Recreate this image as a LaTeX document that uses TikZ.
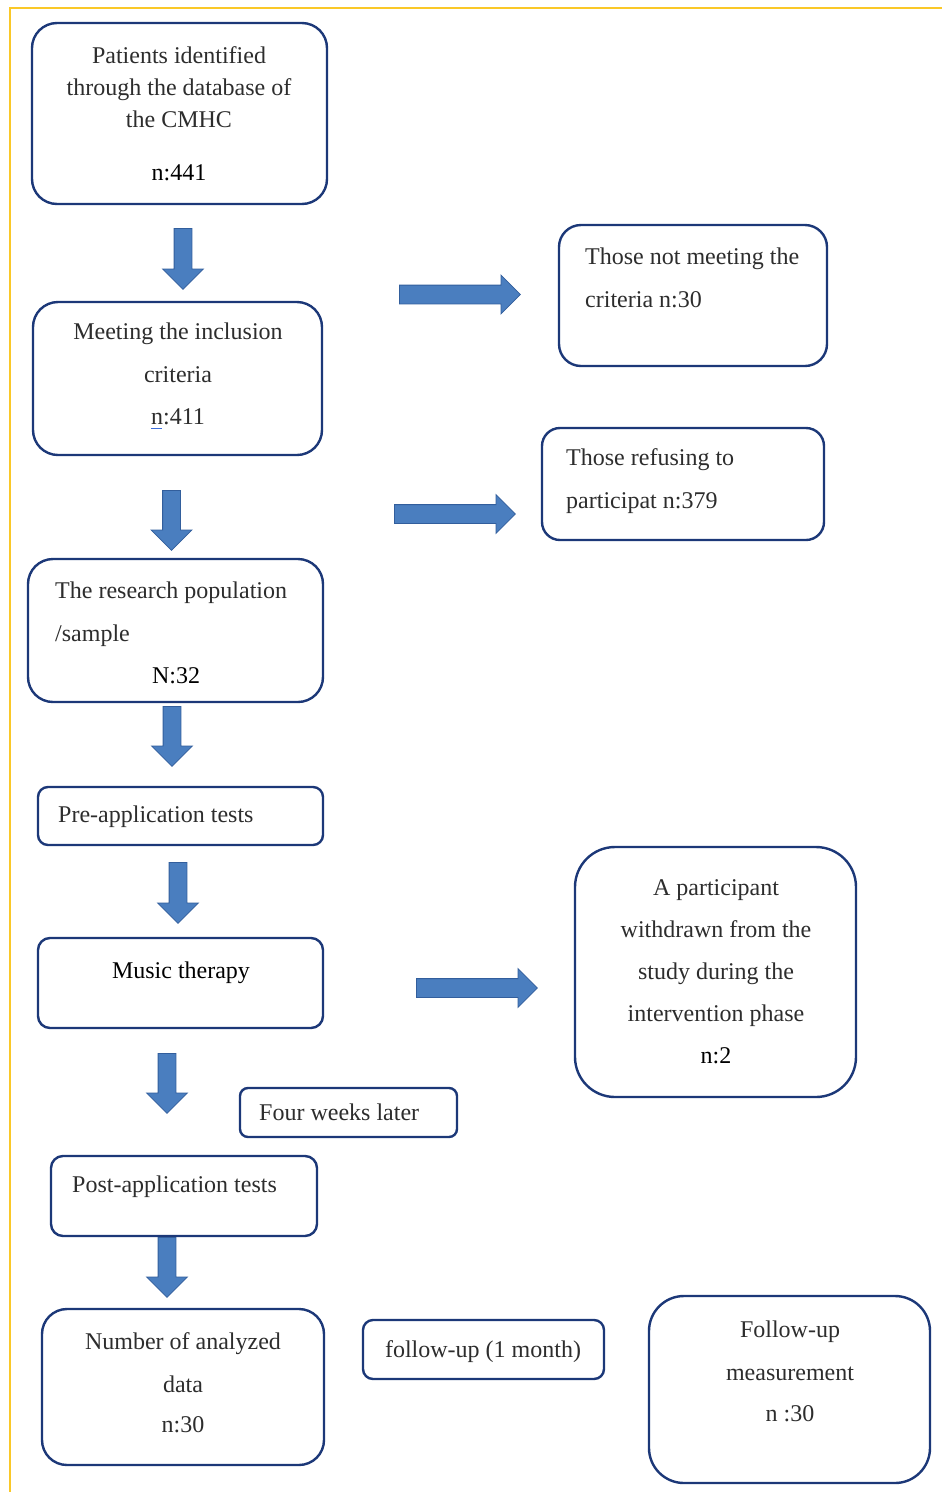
\documentclass[tikz,border=0pt]{standalone}
\usepackage{fontspec}
\setmainfont{Liberation Serif}
\usetikzlibrary{shapes.arrows}
\definecolor{boxblue}{RGB}{28,56,120}
\definecolor{arrfill}{RGB}{74,126,191}
\definecolor{arrline}{RGB}{50,94,156}
\definecolor{frameyellow}{RGB}{250,200,40}
\definecolor{txt}{RGB}{45,45,45}
\definecolor{spell}{RGB}{60,110,220}
\begin{document}
\begin{tikzpicture}[x=1pt,y=-1pt,
  box/.style={draw=boxblue, line width=2.4pt, fill=white, inner sep=0pt},
  blkbase/.style={single arrow, fill=arrfill, draw=arrline, line width=0.8pt,
    single arrow tip angle=90, single arrow head indent=0pt, anchor=tail},
  blk/.style={blkbase, inner sep=8.5pt, single arrow head extend=11.5pt,
    minimum height=60pt, rotate=-90},
  rblk/.style={blkbase, inner sep=9pt, single arrow head extend=10pt, minimum height=121pt},
  lbl/.style={font=\fontsize{24}{24}\selectfont, text=txt, inner sep=0pt, anchor=base},
  lbll/.style={lbl, anchor=base west},
  dark/.style={text=black},
]
\useasboundingbox (0,0) rectangle (942,1492);
\fill[white] (0,0) rectangle (942,1492);
\draw[frameyellow, line width=2pt] (942,8) -- (10,8) -- (10,1492);

% boxes
\node[box, rounded corners=25pt, minimum width=295pt, minimum height=181pt] (b1) at (179.5,113.5) {};
\node[box, rounded corners=25pt, minimum width=289pt, minimum height=153pt] (b2) at (177.5,378.5) {};
\node[box, rounded corners=22pt, minimum width=268pt, minimum height=141pt] (b3) at (693,295.5) {};
\node[box, rounded corners=18pt, minimum width=282pt, minimum height=112pt] (b4) at (683,484) {};
\node[box, rounded corners=25pt, minimum width=295pt, minimum height=143pt] (b5) at (175.5,630.5) {};
\node[box, rounded corners=10pt, minimum width=285pt, minimum height=58pt] (b6) at (180.5,816) {};
\node[box, rounded corners=12pt, minimum width=285pt, minimum height=90pt] (b7) at (180.5,983) {};
\node[box, rounded corners=40pt, minimum width=281pt, minimum height=250pt] (b8) at (715.5,972) {};
\node[box, rounded corners=8pt, minimum width=217pt, minimum height=49pt] (b9) at (348.5,1112.5) {};
\node[box, rounded corners=12pt, minimum width=266pt, minimum height=80pt] (b10) at (184,1196) {};
\node[box, rounded corners=25pt, minimum width=282pt, minimum height=156pt] (b11) at (183,1387) {};
\node[box, rounded corners=10pt, minimum width=241pt, minimum height=59pt] (b12) at (483.5,1349.5) {};
\node[box, rounded corners=35pt, minimum width=281pt, minimum height=187pt] (b13) at (789.5,1389.5) {};

% texts
\node[lbl] (t1a) at (179,63) {Patients identified};
\node[lbl] (t1b) at (179,95) {through the database of};
\node[lbl] (t1c) at (179,127) {the CMHC};
\node[lbl, dark] (t1d) at (179,180) {n:441};

\node[lbl] (t2a) at (178,339) {Meeting the inclusion};
\node[lbl] (t2b) at (178,382) {criteria};
\node[lbl] (t2c) at (178,424) {n:411};
\draw[spell, line width=1pt] ([yshift=-4pt]t2c.base west) -- ++(11,0);

\node[lbll] (t3a) at (585,264) {Those not meeting the};
\node[lbll] (t3b) at (585,307) {criteria n:30};

\node[lbll] (t4a) at (566,465) {Those refusing to};
\node[lbll] (t4b) at (566,508) {participat n:379};

\node[lbll] (t5a) at (55,598) {The research population};
\node[lbll] (t5b) at (55,641) {/sample};
\node[lbl, dark] (t5c) at (176,683) {N:32};

\node[lbll] (t6) at (58,822) {Pre-application tests};
\node[lbl, dark] (t7) at (181,978) {Music therapy};

\node[lbl] (t8a) at (716,895) {A participant};
\node[lbl] (t8b) at (716,937) {withdrawn from the};
\node[lbl] (t8c) at (716,979) {study during the};
\node[lbl] (t8d) at (716,1021) {intervention phase};
\node[lbl, dark] (t8e) at (716,1063) {n:2};

\node[lbll] (t9) at (259,1120) {Four weeks later};
\node[lbll] (t10) at (72,1192) {Post-application tests};

\node[lbl] (t11a) at (183,1349) {Number of analyzed};
\node[lbl] (t11b) at (183,1392) {data};
\node[lbl] (t11c) at (183,1432) {n:30};

\node[lbl] (t12) at (483,1357) {follow-up (1 month)};

\node[lbl] (t13a) at (790,1337) {Follow-up};
\node[lbl] (t13b) at (790,1380) {measurement};
\node[lbl] (t13c) at (790,1421) {n :30};

% block arrows
\node[blk, minimum height=61pt] (a1) at (183,228) {};
\node[blk] (a2) at (171.5,490) {};
\node[blk] (a3) at (172,706) {};
\node[blk, minimum height=61pt] (a4) at (178,862) {};
\node[blk] (a5) at (167,1053) {};
\node[blk] (a6) at (167,1237) {};
\node[rblk] (r1) at (399,294.5) {};
\node[rblk] (r2) at (394,514) {};
\node[rblk] (r3) at (416,988) {};
\end{tikzpicture}
\end{document}
